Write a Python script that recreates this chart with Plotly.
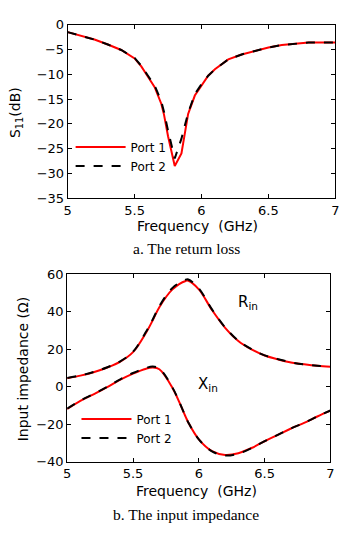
import plotly.graph_objects as go

# ---- Data: return loss (S11, dB) ----
freq_s11 = [5.0, 5.1, 5.2, 5.3, 5.4, 5.5, 5.55, 5.6, 5.65, 5.7, 5.72, 5.75, 5.8, 5.85, 5.9, 5.95, 6.0, 6.05, 6.1, 6.2, 6.3, 6.4, 6.5, 6.6, 6.7, 6.8, 6.9, 7.0]
s11_port1 = [-1.5, -2.2, -3.0, -4.0, -5.1, -6.8, -8.4, -10.5, -12.6, -16.0, -18.2, -22.5, -28.5, -26.0, -18.0, -14.3, -12.2, -10.3, -9.0, -7.0, -6.0, -5.3, -4.6, -4.1, -3.8, -3.6, -3.6, -3.6]
s11_port2 = [-1.5, -2.2, -3.0, -4.0, -5.1, -6.7, -8.3, -10.3, -12.3, -15.5, -17.6, -21.4, -27.0, -23.0, -17.8, -14.0, -12.0, -10.3, -9.0, -7.0, -6.0, -5.3, -4.6, -4.1, -3.8, -3.6, -3.6, -3.6]

# ---- Data: input impedance (Ohm) ----
freq_z = [5.0, 5.1, 5.2, 5.3, 5.4, 5.5, 5.6, 5.65, 5.7, 5.8, 5.9, 5.92, 6.0, 6.1, 6.2, 6.3, 6.4, 6.5, 6.6, 6.7, 6.8, 6.9, 7.0]
r_port1 = [4.6, 6.0, 7.8, 10.2, 13.3, 18.5, 29.0, 35.5, 42.5, 52.0, 56.5, 56.6, 52.0, 41.0, 31.5, 24.5, 20.0, 16.7, 14.7, 13.0, 12.0, 11.2, 10.7]
r_port2 = [4.7, 6.1, 7.9, 10.3, 13.5, 18.7, 29.5, 36.0, 43.0, 52.8, 57.2, 57.3, 52.5, 41.3, 31.7, 24.6, 20.1, 16.8, 14.8, 13.1, 12.0, 11.3, 10.9]
x_port1 = [-11.8, -7.5, -4.0, -0.3, 3.7, 7.1, 9.7, 10.3, 9.4, -0.6, -16.0, -19.0, -28.0, -34.3, -36.3, -35.4, -32.6, -29.0, -25.6, -22.2, -19.2, -15.8, -12.7]
x_port2 = [-11.6, -7.3, -3.8, -0.1, 3.9, 7.4, 10.1, 10.8, 9.8, -0.4, -16.0, -19.0, -28.0, -34.4, -36.6, -35.6, -32.7, -29.0, -25.6, -22.2, -19.2, -15.8, -12.6]

x_ticks = [5, 5.5, 6, 6.5, 7]
s11_ticks = [0, -5, -10, -15, -20, -25, -30, -35]
z_ticks = [-40, -20, 0, 20, 40, 60]

RED = "#ff0000"
BLACK = "#000000"
SANS = "DejaVu Sans, Verdana, Arial"
TICKFONT = dict(family=SANS, size=13, color="#000")

fig = go.Figure()

# Top subplot
fig.add_trace(go.Scatter(x=freq_s11, y=s11_port1, mode="lines", name="Port 1",
                         line=dict(color=RED, width=2), xaxis="x", yaxis="y", legend="legend"))
fig.add_trace(go.Scatter(x=freq_s11, y=s11_port2, mode="lines", name="Port 2",
                         line=dict(color=BLACK, width=2, dash="dash"), xaxis="x", yaxis="y", legend="legend"))

# Bottom subplot
fig.add_trace(go.Scatter(x=freq_z, y=r_port1, mode="lines", name="Port 1",
                         line=dict(color=RED, width=2, shape="spline"), xaxis="x2", yaxis="y2", legend="legend2"))
fig.add_trace(go.Scatter(x=freq_z, y=r_port2, mode="lines", name="Port 2",
                         line=dict(color=BLACK, width=2, dash="dash", shape="spline"), xaxis="x2", yaxis="y2", legend="legend2"))
fig.add_trace(go.Scatter(x=freq_z, y=x_port1, mode="lines", showlegend=False,
                         line=dict(color=RED, width=2, shape="spline"), xaxis="x2", yaxis="y2"))
fig.add_trace(go.Scatter(x=freq_z, y=x_port2, mode="lines", showlegend=False,
                         line=dict(color=BLACK, width=2, dash="dash", shape="spline"), xaxis="x2", yaxis="y2"))

# page body has an 8px margin; size the figure to fit the window exactly
OFF = 8
W, H = 354 - OFF, 533 - OFF

def px_x(p):
    return (p - OFF) / W

def px_y(p):
    return 1 - (p - OFF) / H

axis_common = dict(showgrid=False, zeroline=False, showline=True, linecolor="#000", linewidth=1,
                   mirror="ticks", ticks="inside", ticklen=4, tickcolor="#000", tickfont=TICKFONT)

LEGFONT = dict(family=SANS, size=12, color="#000")

fig.update_layout(
    width=W, height=H,
    margin=dict(l=0, r=0, t=0, b=0),
    paper_bgcolor="white", plot_bgcolor="white",
    xaxis=dict(domain=[px_x(65), px_x(339)], range=[5, 7], tickvals=x_ticks, anchor="y", **axis_common),
    yaxis=dict(domain=[px_y(196.5), px_y(18)], range=[-35, 0], tickvals=s11_ticks, anchor="x", **axis_common),
    xaxis2=dict(domain=[px_x(64.5), px_x(334)], range=[5, 7], tickvals=x_ticks, anchor="y2", **axis_common),
    yaxis2=dict(domain=[px_y(468), px_y(275)], range=[-40, 60], tickvals=z_ticks, anchor="x2", **axis_common),
    legend=dict(x=px_x(68), y=px_y(129), xanchor="left", yanchor="top", bgcolor="rgba(0,0,0,0)",
                font=LEGFONT, tracegroupgap=0, itemwidth=50),
    legend2=dict(x=px_x(74), y=px_y(409), xanchor="left", yanchor="top", bgcolor="rgba(0,0,0,0)",
                 font=LEGFONT, tracegroupgap=0, itemwidth=50),
    showlegend=True,
)

ann_font = dict(family=SANS, size=14, color="#000")
cap_font = dict(family="Liberation Serif, Times New Roman", size=15.5, color="#000")

annotations = [
    dict(text="Frequency  (GHz)", x=px_x(198), y=px_y(225), xref="paper", yref="paper",
         showarrow=False, font=ann_font, xanchor="center", yanchor="middle"),
    dict(text="S<sub>11</sub>(dB)", x=px_x(12), y=px_y(108), xref="paper", yref="paper",
         showarrow=False, font=ann_font, textangle=-90, xanchor="center", yanchor="middle"),
    dict(text="a. The return loss", x=px_x(186.5), y=px_y(248), xref="paper", yref="paper",
         showarrow=False, font=cap_font, xanchor="center", yanchor="middle"),
    dict(text="Frequency  (GHz)", x=px_x(197), y=px_y(498), xref="paper", yref="paper",
         showarrow=False, font=ann_font, xanchor="center", yanchor="middle"),
    dict(text="Input impedance (Ω)", x=px_x(19), y=px_y(373), xref="paper", yref="paper",
         showarrow=False, font=ann_font, textangle=-90, xanchor="center", yanchor="middle"),
    dict(text="b. The input impedance", x=px_x(186.5), y=px_y(522), xref="paper", yref="paper",
         showarrow=False, font=cap_font, xanchor="center", yanchor="middle"),
    dict(text="R<sub>in</sub>", x=6.37, y=45, xref="x2", yref="y2",
         showarrow=False, font=dict(family=SANS, size=15, color="#000")),
    dict(text="X<sub>in</sub>", x=6.07, y=1, xref="x2", yref="y2",
         showarrow=False, font=dict(family=SANS, size=15, color="#000")),
]
fig.update_layout(annotations=annotations)

fig.write_html("out.html")
